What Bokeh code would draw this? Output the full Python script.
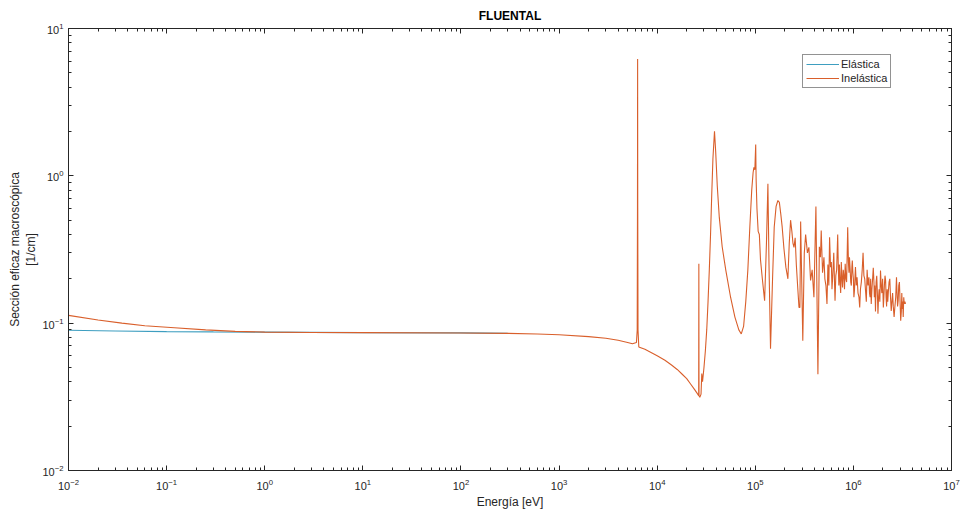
from bokeh.plotting import figure
from bokeh.models import FixedTicker, LogAxis, CustomJSTickFormatter
from bokeh.embed import file_html
from bokeh.resources import INLINE

# ---------------- data ----------------
titulo = "FLUENTAL"
etiqueta_x = "Energía [eV]"
etiqueta_y = "Sección eficaz macroscópica\n[1/cm]"
nombres = ["Elástica", "Inelástica"]

energia_elastica = [1e-2, 3e-2, 1e-1, 3e-1, 1e0, 3e0, 1e1, 1e2, 3e2]
sigma_elastica = [0.0895, 0.0885, 0.0877, 0.0872, 0.0870, 0.0865, 0.0862, 0.0858, 0.0853]

energia_inelastica = [
    1e-2, 2e-2, 3.5e-2, 6e-2, 1.2e-1, 2.5e-1, 5e-1, 1e0, 3e0, 1e1, 1e2, 3e2, 6e2,
    1e3, 2e3, 3e3, 4e3, 5e3, 5.6e3, 6.15e3, 6.26e3, 6.30e3, 6.32e3, 6.34e3, 6.38e3,
    6.5e3, 7.5e3, 1e4, 1.2e4, 1.4e4, 1.6e4, 1.8e4, 2.0e4, 2.2e4, 2.4e4, 2.55e4,
    2.65e4, 2.66e4, 2.67e4, 2.72e4, 2.8e4, 2.85e4, 2.9e4, 3.0e4, 3.1e4, 3.2e4,
    3.3e4, 3.4e4, 3.5e4, 3.6e4, 3.7e4, 3.84e4, 3.95e4, 4.1e4, 4.3e4, 4.6e4,
    5.0e4, 5.6e4, 6.2e4, 6.8e4, 7.2e4, 7.6e4, 8.0e4, 8.4e4, 8.8e4, 9.2e4,
    9.5e4, 9.68e4, 9.9e4, 1.01e5, 1.02e5, 1.04e5, 1.07e5, 1.10e5, 1.13e5,
    1.18e5, 1.245e5, 1.30e5, 1.345e5, 1.38e5, 1.43e5, 1.50e5, 1.56e5, 1.63e5,
    1.70e5, 1.76e5, 1.82e5, 1.88e5, 1.96e5, 2.05e5, 2.15e5, 2.22e5, 2.29e5,
    2.36e5, 2.42e5, 2.48e5, 2.55e5, 2.62e5, 2.70e5, 2.79e5,
    2.85e5, 2.90e5, 3.05e5, 3.16e5, 3.26e5, 3.40e5, 3.52e5, 3.66e5, 3.80e5, 3.96e5,
    4.15e5, 4.35e5, 4.50e5, 4.62e5, 4.70e5, 4.85e5, 5.01e5, 5.12e5, 5.25e5, 5.38e5,
    5.50e5, 5.62e5, 5.72e5, 5.85e5, 5.96e5, 6.05e5, 6.15e5, 6.31e5, 6.42e5,
    6.50e5, 6.62e5, 6.75e5, 6.92e5, 7.02e5, 7.11e5, 7.20e5, 7.30e5, 7.42e5,
    7.53e5, 7.65e5, 7.75e5, 7.88e5, 8.00e5, 8.12e5, 8.25e5, 8.40e5, 8.53e5,
    8.65e5, 8.75e5, 8.90e5, 9.02e5, 9.12e5, 9.25e5, 9.40e5, 9.53e5, 9.65e5,
    9.75e5, 9.88e5, 1.00e6, 1.012e6, 1.025e6, 1.04e6, 1.05e6, 1.07e6, 1.09e6,
    1.115e6, 1.14e6, 1.16e6, 1.18e6, 1.205e6, 1.23e6, 1.255e6, 1.28e6, 1.305e6,
    1.33e6, 1.355e6, 1.38e6, 1.41e6, 1.44e6, 1.46e6, 1.48e6, 1.50e6, 1.52e6,
    1.545e6, 1.57e6, 1.595e6, 1.62e6, 1.635e6, 1.65e6, 1.665e6, 1.68e6, 1.705e6,
    1.73e6, 1.755e6, 1.78e6, 1.805e6, 1.83e6, 1.86e6, 1.89e6, 1.92e6, 1.95e6,
    1.985e6, 2.02e6, 2.045e6, 2.07e6, 2.10e6, 2.13e6, 2.155e6, 2.18e6, 2.21e6,
    2.24e6, 2.275e6, 2.31e6, 2.35e6, 2.39e6, 2.43e6, 2.47e6, 2.51e6, 2.55e6,
    2.60e6, 2.65e6, 2.70e6, 2.75e6, 2.785e6, 2.82e6, 2.86e6, 2.90e6, 2.945e6,
    2.99e6, 3.035e6, 3.08e6, 3.115e6, 3.15e6, 3.185e6, 3.22e6, 3.26e6, 3.30e6,
    3.35e6, 3.40e6,
]
sigma_inelastica = [
    0.113, 0.105, 0.100, 0.096, 0.093, 0.090, 0.088, 0.0870, 0.0865, 0.0862, 0.0858, 0.0853, 0.0845,
    0.0835, 0.0810, 0.0790, 0.0765, 0.0740, 0.0725, 0.0740, 0.0900, 0.600, 6.20, 0.600, 0.0900,
    0.0690, 0.0665, 0.0600, 0.0560, 0.0520, 0.0485, 0.0450, 0.0420, 0.0385, 0.0355, 0.0335,
    0.0322, 0.253, 0.0322, 0.0314, 0.0330, 0.0455, 0.0400, 0.0500, 0.0650, 0.0900,
    0.140, 0.230, 0.400, 0.750, 1.30, 2.01, 1.45, 0.850, 0.520, 0.330,
    0.230, 0.150, 0.110, 0.0900, 0.0845, 0.0950, 0.140, 0.230, 0.450, 0.800,
    1.05, 1.14, 1.10, 1.63, 0.950, 0.600, 0.420, 0.400, 0.270,
    0.200, 0.142, 0.350, 0.883, 0.250, 0.0670, 0.200, 0.450, 0.620,
    0.680, 0.660, 0.550, 0.450, 0.320, 0.240, 0.200, 0.350, 0.500,
    0.420, 0.350, 0.327, 0.380, 0.250, 0.180, 0.128,
    0.128, 0.490, 0.076, 0.300, 0.400, 0.300, 0.327, 0.195, 0.230, 0.150,
    0.620, 0.045, 0.330, 0.280, 0.425, 0.220, 0.280, 0.200, 0.180, 0.135,
    0.250, 0.180, 0.383, 0.240, 0.260, 0.170, 0.205, 0.300, 0.190,
    0.142, 0.210, 0.230, 0.400, 0.240, 0.180, 0.250, 0.195, 0.160,
    0.260, 0.200, 0.175, 0.230, 0.210, 0.170, 0.253, 0.200, 0.190,
    0.300, 0.448, 0.260, 0.220, 0.280, 0.238, 0.190, 0.180, 0.240,
    0.266, 0.220, 0.200, 0.150, 0.166, 0.210, 0.240, 0.180, 0.205,
    0.160, 0.150, 0.128, 0.170, 0.190, 0.230, 0.300, 0.210, 0.200,
    0.166, 0.140, 0.230, 0.180, 0.205, 0.160, 0.150, 0.200, 0.135,
    0.170, 0.200, 0.238, 0.190, 0.150, 0.180, 0.160, 0.120, 0.190,
    0.210, 0.160, 0.116, 0.150, 0.170, 0.140, 0.228, 0.180, 0.160,
    0.200, 0.128, 0.150, 0.180, 0.210, 0.195, 0.150, 0.130, 0.170,
    0.140, 0.166, 0.190, 0.200, 0.150, 0.121, 0.140, 0.160, 0.130,
    0.110, 0.130, 0.150, 0.205, 0.160, 0.130, 0.142, 0.180, 0.190,
    0.140, 0.104, 0.120, 0.160, 0.125, 0.140, 0.110, 0.150, 0.135,
    0.140, 0.135,
]

ticks_x = [1e-2, 1e-1, 1e0, 1e1, 1e2, 1e3, 1e4, 1e5, 1e6, 1e7]
ticks_y = [1e-2, 1e-1, 1e0, 1e1]

# ---------------- styling ----------------
FONT = "Liberation Sans"
AX = "#262626"
COL_EL = "#3E9EC0"
COL_IN = "#D95F2B"

def minors(majors):
    return [m * k for m in majors[:-1] for k in range(2, 10)]

p = figure(
    width=964, height=511,
    x_axis_type="log", y_axis_type="log",
    x_range=(ticks_x[0], ticks_x[-1]), y_range=(ticks_y[0], ticks_y[-1]),
    output_backend="svg", toolbar_location=None,
    min_border_left=68, min_border_right=13, min_border_top=28, min_border_bottom=41,
)
p.background_fill_color = "white"
p.border_fill_color = "white"
p.grid.visible = False
p.outline_line_color = AX
p.outline_line_width = 1

p.title.text = titulo
p.title.align = "center"
p.title.text_font = FONT
p.title.text_font_size = "12px"
p.title.text_font_style = "bold"
p.title.text_color = "#000000"
p.title.standoff = 11

tx = FixedTicker(ticks=ticks_x, minor_ticks=minors(ticks_x))
ty = FixedTicker(ticks=ticks_y, minor_ticks=minors(ticks_y))

for ax, tk in ((p.xaxis[0], tx), (p.yaxis[0], ty)):
    ax.ticker = tk
    ax.major_tick_in = 5
    ax.major_tick_out = 0
    ax.minor_tick_in = 3
    ax.minor_tick_out = 0
    ax.axis_line_color = AX
    ax.major_tick_line_color = AX
    ax.minor_tick_line_color = AX
    ax.major_label_text_font = FONT
    ax.major_label_text_font_size = "11px"
    ax.major_label_text_color = AX
    ax.axis_label_text_font = FONT
    ax.axis_label_text_font_size = "12px"
    ax.axis_label_text_font_style = "normal"
    ax.axis_label_text_color = AX

p.xaxis[0].axis_label = etiqueta_x
p.xaxis[0].major_label_standoff = 8
p.xaxis[0].axis_label_standoff = 2
p.yaxis[0].axis_label = etiqueta_y
p.yaxis[0].major_label_standoff = 5
p.yaxis[0].axis_label_standoff = 1

blank = CustomJSTickFormatter(code="return ''")
for loc, tk in (("above", tx), ("right", ty)):
    a = LogAxis(ticker=tk, formatter=blank)
    a.major_tick_in = 5
    a.major_tick_out = 0
    a.minor_tick_in = 3
    a.minor_tick_out = 0
    a.axis_line_color = AX
    a.major_tick_line_color = AX
    a.minor_tick_line_color = AX
    a.major_label_standoff = 0
    a.major_label_text_font_size = "1px"
    p.add_layout(a, loc)

r_el = p.line(energia_elastica, sigma_elastica, line_color=COL_EL, line_width=1.2, legend_label=nombres[0])
r_in = p.line(energia_inelastica, sigma_inelastica, line_color=COL_IN, line_width=1.1, legend_label=nombres[1])

lg = p.legend[0]
lg.location = (734, 382)
lg.label_text_font = FONT
lg.label_text_font_size = "11px"
lg.label_text_color = AX
lg.glyph_width = 33
lg.glyph_height = 12
lg.spacing = 2
lg.padding = 3
lg.margin = 0
lg.label_standoff = 2
lg.border_line_color = AX
lg.border_line_width = 1
lg.background_fill_color = "white"
lg.background_fill_alpha = 1

open("out.html", "w").write(file_html(p, INLINE))
